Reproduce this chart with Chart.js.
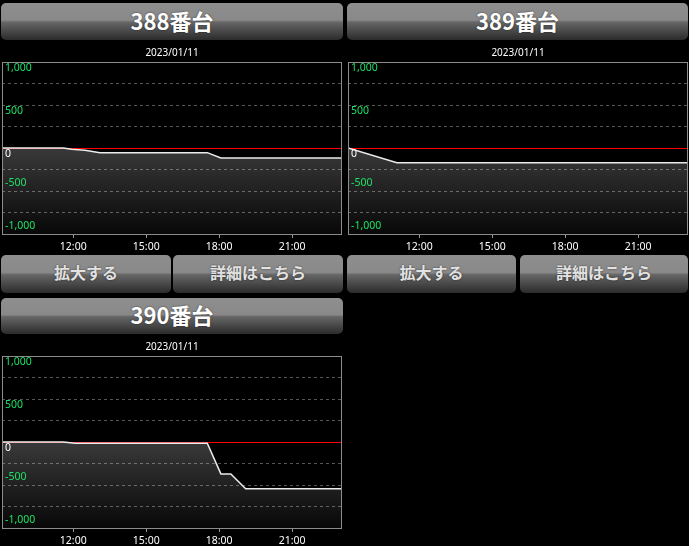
<!DOCTYPE html>
<html><head><meta charset="utf-8">
<script src="https://cdn.jsdelivr.net/npm/chart.js@4.4.1/dist/chart.umd.min.js"></script>
<style>
html,body{margin:0;padding:0;background:#000;width:689px;height:546px;overflow:hidden;}
.btn{position:absolute;box-sizing:border-box;border-radius:5px;background:linear-gradient(#8e8e8e 0%,#898989 46%,#666 52%,#2b2b2b 100%);color:#fff;font-family:"Noto Sans CJK JP",sans-serif;font-weight:bold;display:flex;align-items:center;justify-content:center;text-shadow:0 0 2px rgba(0,0,0,0.6);}
.hdr{height:37px;font-size:22px;padding-bottom:4px;}
.sub{height:38px;font-size:16px;color:#e2e2e2;padding-bottom:4px;}
canvas{position:absolute;}
</style></head>
<body>
<div class="btn hdr" style="left:1px;top:3px;width:342px;">388番台</div>
<div class="btn hdr" style="left:347px;top:3px;width:341px;">389番台</div>
<canvas id="c1" width="345" height="210" style="left:0;top:44px;"></canvas>
<canvas id="c2" width="344" height="210" style="left:345px;top:44px;"></canvas>
<div class="btn sub" style="left:1px;top:255px;width:170px;">拡大する</div>
<div class="btn sub" style="left:173px;top:255px;width:170px;">詳細はこちら</div>
<div class="btn sub" style="left:347px;top:255px;width:169px;">拡大する</div>
<div class="btn sub" style="left:520px;top:255px;width:168px;">詳細はこちら</div>
<div class="btn hdr" style="left:1px;top:298px;width:342px;height:36px;">390番台</div>
<canvas id="c3" width="345" height="210" style="left:0;top:338px;"></canvas>
<script>
// ---- data ----
const dateLabel = '2023/01/11';
const xMin = 9.07, xMax = 23.05; // hours
const xTickValues = [12, 15, 18, 21];
const xTickLabels = ['12:00', '15:00', '18:00', '21:00'];
const yGridValues = [-1000, -750, -500, -250, 0, 250, 500, 750, 1000];
const yTickValues = [1000, 500, 0, -500, -1000];
const yTickLabels = ['1,000', '500', '0', '-500', '-1,000'];

const times388 = [9.07, 11.59, 11.93, 12.48, 13.10, 17.51, 18.07, 23.05];
const values388 = [0, 0, -15, -27, -54, -54, -117, -117];

const times389 = [9.07, 11.08, 23.05];
const values389 = [0, -171, -171];

const times390 = [9.07, 11.59, 12.07, 17.51, 18.07, 18.48, 19.09, 23.05];
const values390 = [0, 0, -15, -15, -371, -371, -545, -545];

// ---- drawing ----
const FONT = '"Noto Sans", "Liberation Sans", sans-serif';
const GREEN = '#1ae466';

const framePlugin = {
  id: 'frame',
  afterDatasetsDraw(chart) {
    const a = chart.chartArea, c = chart.ctx;
    c.save();
    c.strokeStyle = '#8c8c8c';
    c.lineWidth = 1;
    c.strokeRect(Math.round(a.left) + 0.5, Math.round(a.top) + 0.5,
                 Math.round(a.right - a.left) - 1, Math.round(a.bottom - a.top));
    c.restore();
  }
};

function makeChart(id, times, values, padL, padR) {
  const pts = times.map((t, i) => ({x: t, y: values[i]}));
  return new Chart(document.getElementById(id), {
    type: 'line',
    data: { datasets: [{
      data: pts,
      borderColor: '#ececec',
      borderWidth: 1.5,
      pointRadius: 0,
      tension: 0,
      fill: 'start',
      backgroundColor: (ctx) => {
        const a = ctx.chart.chartArea;
        if (!a) return 'rgba(255,255,255,0.2)';
        const g = ctx.chart.ctx.createLinearGradient(0, a.top, 0, a.bottom);
        g.addColorStop(0, 'rgba(255,255,255,0.42)');
        g.addColorStop(1, 'rgba(255,255,255,0.03)');
        return g;
      }
    }]},
    options: {
      responsive: false,
      animation: false,
      devicePixelRatio: 1,
      layout: { padding: { left: padL, right: padR, top: 0, bottom: 0 } },
      plugins: {
        legend: { display: false },
        tooltip: { enabled: false },
        title: { display: true, text: dateLabel, color: '#ffffff',
                 font: { size: 10, family: FONT, weight: 'normal' },
                 padding: { top: 3, bottom: 3 } }
      },
      scales: {
        x: {
          type: 'linear', min: xMin, max: xMax,
          afterBuildTicks: s => { s.ticks = xTickValues.map(v => ({value: v})); },
          afterFit: s => { s.height = 20; },
          ticks: { autoSkip: false, maxRotation: 0, padding: 3, color: '#ffffff',
                   font: { size: 10.5, family: FONT },
                   callback: v => xTickLabels[xTickValues.indexOf(v)] },
          grid: { display: true, drawOnChartArea: false, drawTicks: true, tickLength: 4, color: '#9a9a9a' },
          border: { display: false }
        },
        y: {
          position: 'left', min: -1000, max: 1000,
          afterBuildTicks: s => { s.ticks = yGridValues.map(v => ({value: v})); },
          afterFit: s => { s.width = 0; },
          ticks: { mirror: true, padding: 3, labelOffset: 6, z: 1, autoSkip: false,
                   font: { size: 10.5, family: FONT },
                   color: c => (c.tick && c.tick.value === 0) ? '#ffffff' : GREEN,
                   callback: v => { const i = yTickValues.indexOf(v); return (i >= 0 && v >= 0) ? yTickLabels[i] : ''; } },
          grid: { drawTicks: false, lineWidth: 1,
                  color: c => { const v = c.tick ? c.tick.value : null;
                                if (v === 0) return '#ff0000';
                                if (v === 1000 || v === -1000) return 'rgba(0,0,0,0)';
                                return '#555555'; } },
          border: { display: false, dash: c => (c.tick && c.tick.value === 0) ? [] : [3, 3] }
        },
        y2: {
          position: 'left', min: -1000, max: 1000,
          afterBuildTicks: s => { s.ticks = yTickValues.filter(v => v < 0).map(v => ({value: v})); },
          afterFit: s => { s.width = 0; },
          ticks: { mirror: true, padding: 3, labelOffset: -8, z: 1, autoSkip: false,
                   font: { size: 10.5, family: FONT }, color: GREEN,
                   callback: v => yTickLabels[yTickValues.indexOf(v)] },
          grid: { display: false },
          border: { display: false }
        }
      }
    },
    plugins: [framePlugin]
  });
}

makeChart('c1', times388, values388, 2, 3);
makeChart('c2', times389, values389, 3, 1);
makeChart('c3', times390, values390, 2, 3);
</script>
</body></html>
